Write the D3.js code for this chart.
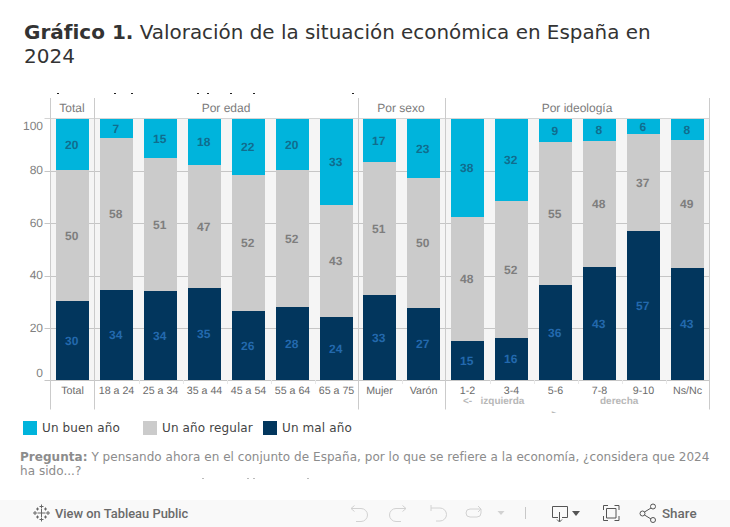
<!DOCTYPE html>
<html lang="es"><head><meta charset="utf-8">
<script src="https://cdn.jsdelivr.net/npm/d3@7"></script>
<style>html,body{margin:0;padding:0;background:#fff;overflow:hidden}svg{display:block}</style>
</head><body><div id="chart"></div>
<script>
const groupNames = ["Total","Por edad","Por sexo","Por ideología"];
const groupCategories = [
  ["Total"],
  ["18 a 24","25 a 34","35 a 44","45 a 54","55 a 64","65 a 75"],
  ["Mujer","Varón"],
  ["1-2","3-4","5-6","7-8","9-10","Ns/Nc"]
];
const malAno     = [30.3,34.4,34.1,35.2,26.4,28.0,24.1,32.6,27.4,14.9,16.1,36.4,43.3,57.1,42.9];
const regularAno = [50.2,58.4,51.0,47.2,52.1,52.4,42.9,50.9,50.0,47.6,52.4,54.8,48.4,37.2,49.0];
const buenAno    = [19.5,7.2,14.9,17.6,21.5,19.6,33.0,16.5,22.6,37.5,31.5,8.8,8.3,5.7,8.1];
const yTicks = [0,20,40,60,80,100];
const seriesNames = ["Un buen año","Un año regular","Un mal año"];
const seriesColors = ["#00b4dc","#cbcbcb","#02365d"];
const labelColors = ["#106d8e","#7e7e7e","#2369ad"];

const W=730,H=527, sans='"Liberation Sans",Arial,sans-serif', dv='"DejaVu Sans",sans-serif';
const svg=d3.select("#chart").append("svg").attr("width",W).attr("height",H);
const y=d3.scaleLinear().domain([0,100]).range([380,119]);
const panelRanges=[[50.5,94.5],[94.5,358.5],[357.5,445.5],[445.5,709.5]];
const dividers=[50.5,94.5,358.5,445.5,709.5];
const scales=groupCategories.map((c,i)=>d3.scaleBand().domain(c).range(panelRanges[i]).paddingInner(.25).paddingOuter(.125));
const rows=groupCategories.flatMap((c,i)=>c.map(n=>({name:n,x:scales[i]})));
rows.forEach((r,i)=>{r.vals=[buenAno[i],regularAno[i],malAno[i]];});

// title
const title=svg.append("text").attr("font-family",dv).attr("font-size",20).attr("fill","#333");
const t1=title.append("tspan").attr("x",24).attr("y",39);
t1.append("tspan").attr("font-weight","bold").text("Gráfico 1.");
t1.append("tspan").attr("font-size",19.92).text(" Valoración de la situación económica en España en");
title.append("tspan").attr("x",24).attr("y",63).text("2024");

// clipped remains of the hidden caption lines
const specks=svg.append("g").attr("fill","#222").attr("shape-rendering","crispEdges");
[57,114,131,197,207,230,253,352].forEach(sx=>specks.append("rect").attr("x",sx).attr("y",93).attr("width",2).attr("height",1));
const specks2=svg.append("g").attr("fill","#bbb").attr("shape-rendering","crispEdges");
[202,247,253,307].forEach(sx=>specks2.append("rect").attr("x",sx).attr("y",478).attr("width",2).attr("height",1));

// panel background
svg.append("rect").attr("x",51).attr("y",119).attr("width",659).attr("height",261).attr("fill","#f5f5f5");

// y axis with grid
const yAxis=svg.append("g").attr("transform","translate(51,0)")
  .call(d3.axisLeft(y).tickValues(yTicks).tickSize(0).tickPadding(8));
yAxis.select(".domain").remove();
yAxis.selectAll("text").attr("font-family",sans).attr("font-size",12).attr("fill","#808080").attr("text-rendering","geometricPrecision")
  .attr("dy",d=>d===100?"0.85em":d===0?"-0.3em":d===80?"0.22em":"0.28em").attr("dx",0);
const gridCol="#c6c6c6";
svg.append("g").selectAll("line").data(yTicks).join("line")
  .attr("x1",44.5).attr("x2",710).attr("y1",d=>Math.round(y(d))+.5-(d===100?1:0)).attr("y2",d=>Math.round(y(d))+.5-(d===100?1:0))
  .attr("stroke",d=>d===100?"#d4d4d4":gridCol);
// dividers
svg.append("g").selectAll("line").data(dividers).join("line")
  .attr("x1",d=>d).attr("x2",d=>d).attr("y1",98).attr("y2",409.5).attr("stroke","#cbcbcb");

// stacked bars
const stack=d3.stack().keys([2,1,0]).value((r,k)=>r.vals[k]);
const layers=stack(rows);
layers.forEach(layer=>{
  const k=layer.key, g=svg.append("g");
  g.selectAll("rect").data(layer).join("rect").attr("shape-rendering","crispEdges")
    .attr("x",d=>d.data.x(d.data.name)).attr("width",d=>d.data.x.bandwidth())
    .attr("y",d=>y(d[1])).attr("height",d=>y(d[0])-y(d[1])).attr("fill",seriesColors[k]);
  g.selectAll("text").data(layer).join("text")
    .attr("x",d=>d.data.x(d.data.name)+d.data.x.bandwidth()/2-.7).attr("y",d=>(y(d[0])+y(d[1]))/2)
    .attr("dy","0.35em").attr("text-anchor","middle").attr("text-rendering","geometricPrecision")
    .attr("font-family",sans).attr("font-weight","bold").attr("font-size",12).attr("fill",labelColors[k])
    .text(d=>Math.round(d.data.vals[k]));
});

// x axes and headers
scales.forEach((s,i)=>{
  const ax=svg.append("g").attr("transform","translate(0,380)").call(d3.axisBottom(s).tickSize(0).tickPadding(6));
  ax.select(".domain").remove();
  ax.selectAll("text").attr("font-family",sans).attr("font-size",10.67).attr("fill","#6b6b6b").attr("text-rendering","geometricPrecision");
  svg.append("text").attr("x",(panelRanges[i][0]+panelRanges[i][1])/2-.5).attr("y",112).attr("text-rendering","geometricPrecision")
    .attr("text-anchor","middle").attr("font-family",sans).attr("font-size",12).attr("fill","#7b7b7b").text(groupNames[i]);
  s.domain().slice(1).forEach(c=>{
    const xx=Math.round(s(c)-5.5)+.5;
    svg.append("line").attr("x1",xx).attr("x2",xx).attr("y1",380).attr("y2",384).attr("stroke","#e8e8e8");
  });
});

// ideology direction note
svg.append("clipPath").attr("id","noteClip").append("rect").attr("x",450).attr("y",392).attr("width",240).attr("height",21);
const note=svg.append("g").attr("clip-path","url(#noteClip)").attr("font-family",sans).attr("font-weight","bold").attr("font-size",10).attr("fill","#b8b8b8").attr("text-rendering","geometricPrecision");
note.append("text").attr("x",463).attr("y",403.5).style("white-space","pre").text("<-   izquierda");
note.append("text").attr("x",600).attr("y",403.5).text("derecha");
note.append("text").attr("x",545).attr("y",419).attr("font-size",13).attr("letter-spacing",2).text("->");

// legend
const lg=[23,143,263];
svg.append("g").selectAll("rect").data(seriesNames).join("rect")
  .attr("x",(d,i)=>lg[i]).attr("y",421).attr("width",14).attr("height",14).attr("fill",(d,i)=>seriesColors[i]);
svg.append("g").selectAll("text").data(seriesNames).join("text")
  .attr("x",(d,i)=>lg[i]+19).attr("y",432).attr("font-family",dv).attr("font-size",12).attr("letter-spacing",.12).attr("fill","#444").text(d=>d);

// question
const q=svg.append("text").attr("font-family",dv).attr("font-size",12).attr("letter-spacing",.04).attr("fill","#8c8c8c");
const q1=q.append("tspan").attr("x",20).attr("y",461);
q1.append("tspan").attr("font-weight","bold").text("Pregunta:");
q1.append("tspan").text(" Y pensando ahora en el conjunto de España, por lo que se refiere a la economía, ¿considera que 2024");
q.append("tspan").attr("x",20).attr("y",475).text("ha sido...?");

// toolbar
svg.append("rect").attr("x",0).attr("y",500).attr("width",W).attr("height",27).attr("fill","#f9f9f9");
svg.append("text").attr("x",55).attr("y",518).attr("font-family","Roboto,sans-serif").attr("font-weight",500).attr("font-size",12.9).attr("fill","#6a6a6a").text("View on Tableau Public");
svg.append("text").attr("x",662).attr("y",518).attr("font-family","Roboto,sans-serif").attr("font-weight",500).attr("font-size",13.4).attr("fill","#6a6a6a").text("Share");
// tableau logo
const logo=svg.append("g").attr("transform","translate(41.5,513)").attr("stroke","#666").attr("stroke-width",1).attr("fill","none");
[[0,0,4],[0,-6.5,2],[0,6.5,2],[-6.5,0,2],[6.5,0,2],[-4,-4,1.5],[4,-4,1.5],[-4,4,1.5],[4,4,1.5]].forEach(([a,b,r])=>
  logo.append("path").attr("d",`M${a-r} ${b}H${a+r}M${a} ${b-r}V${b+r}`));
const ic=svg.append("g").attr("fill","none").attr("stroke","#d2d2d2").attr("stroke-width",1);
ic.append("path").attr("d","M351 508.5h10a6.5 6.5 0 0 1 0 13h-5M351 508.5l3.5 -3M351 508.5l3.5 3");
ic.append("path").attr("d","M406 508.5h-10a6.5 6.5 0 0 0 0 13h5M406 508.5l-3.5 -3M406 508.5l-3.5 3");
ic.append("path").attr("d","M431 505v6M431 508h9a6.5 6.5 0 0 1 0 13h-4");
ic.append("path").attr("d","M481 509h-11a4 4 0 0 0 0 8h7a4 4 0 0 0 4 -4v-4M481 509l-3 -3M481 509l-3 3");
svg.append("path").attr("d","M497.5 511h7l-3.5 4z").attr("fill","#d2d2d2");
svg.append("line").attr("x1",525.5).attr("x2",525.5).attr("y1",507).attr("y2",519).attr("stroke","#c8c8c8");
const ic2=svg.append("g").attr("fill","none").attr("stroke","#555").attr("stroke-width",1);
ic2.append("path").attr("d","M558 517.5h-5.5v-11h15v11h-5.5M559.5 512v9.5M557 519.5l2.5 2.5l2.5 -2.5");
svg.append("path").attr("d","M572 511h8l-4 5z").attr("fill","#555");
ic2.append("path").attr("d","M603.5 510v-4.5h4.5M614.5 505.5h4.5v4.5M619 516v4.5h-4.5M608 520.5h-4.5v-4.5M606.5 508.5h9.5v9.5h-9.5z");
ic2.append("path").attr("d","M644.5 512l6.5 -4M644.5 515l6.5 4");
ic2.selectAll("circle.s").data([[642.5,513.5],[653,506.5],[653,520]]).join("circle").attr("cx",d=>d[0]).attr("cy",d=>d[1]).attr("r",2.5);
</script></body></html>
